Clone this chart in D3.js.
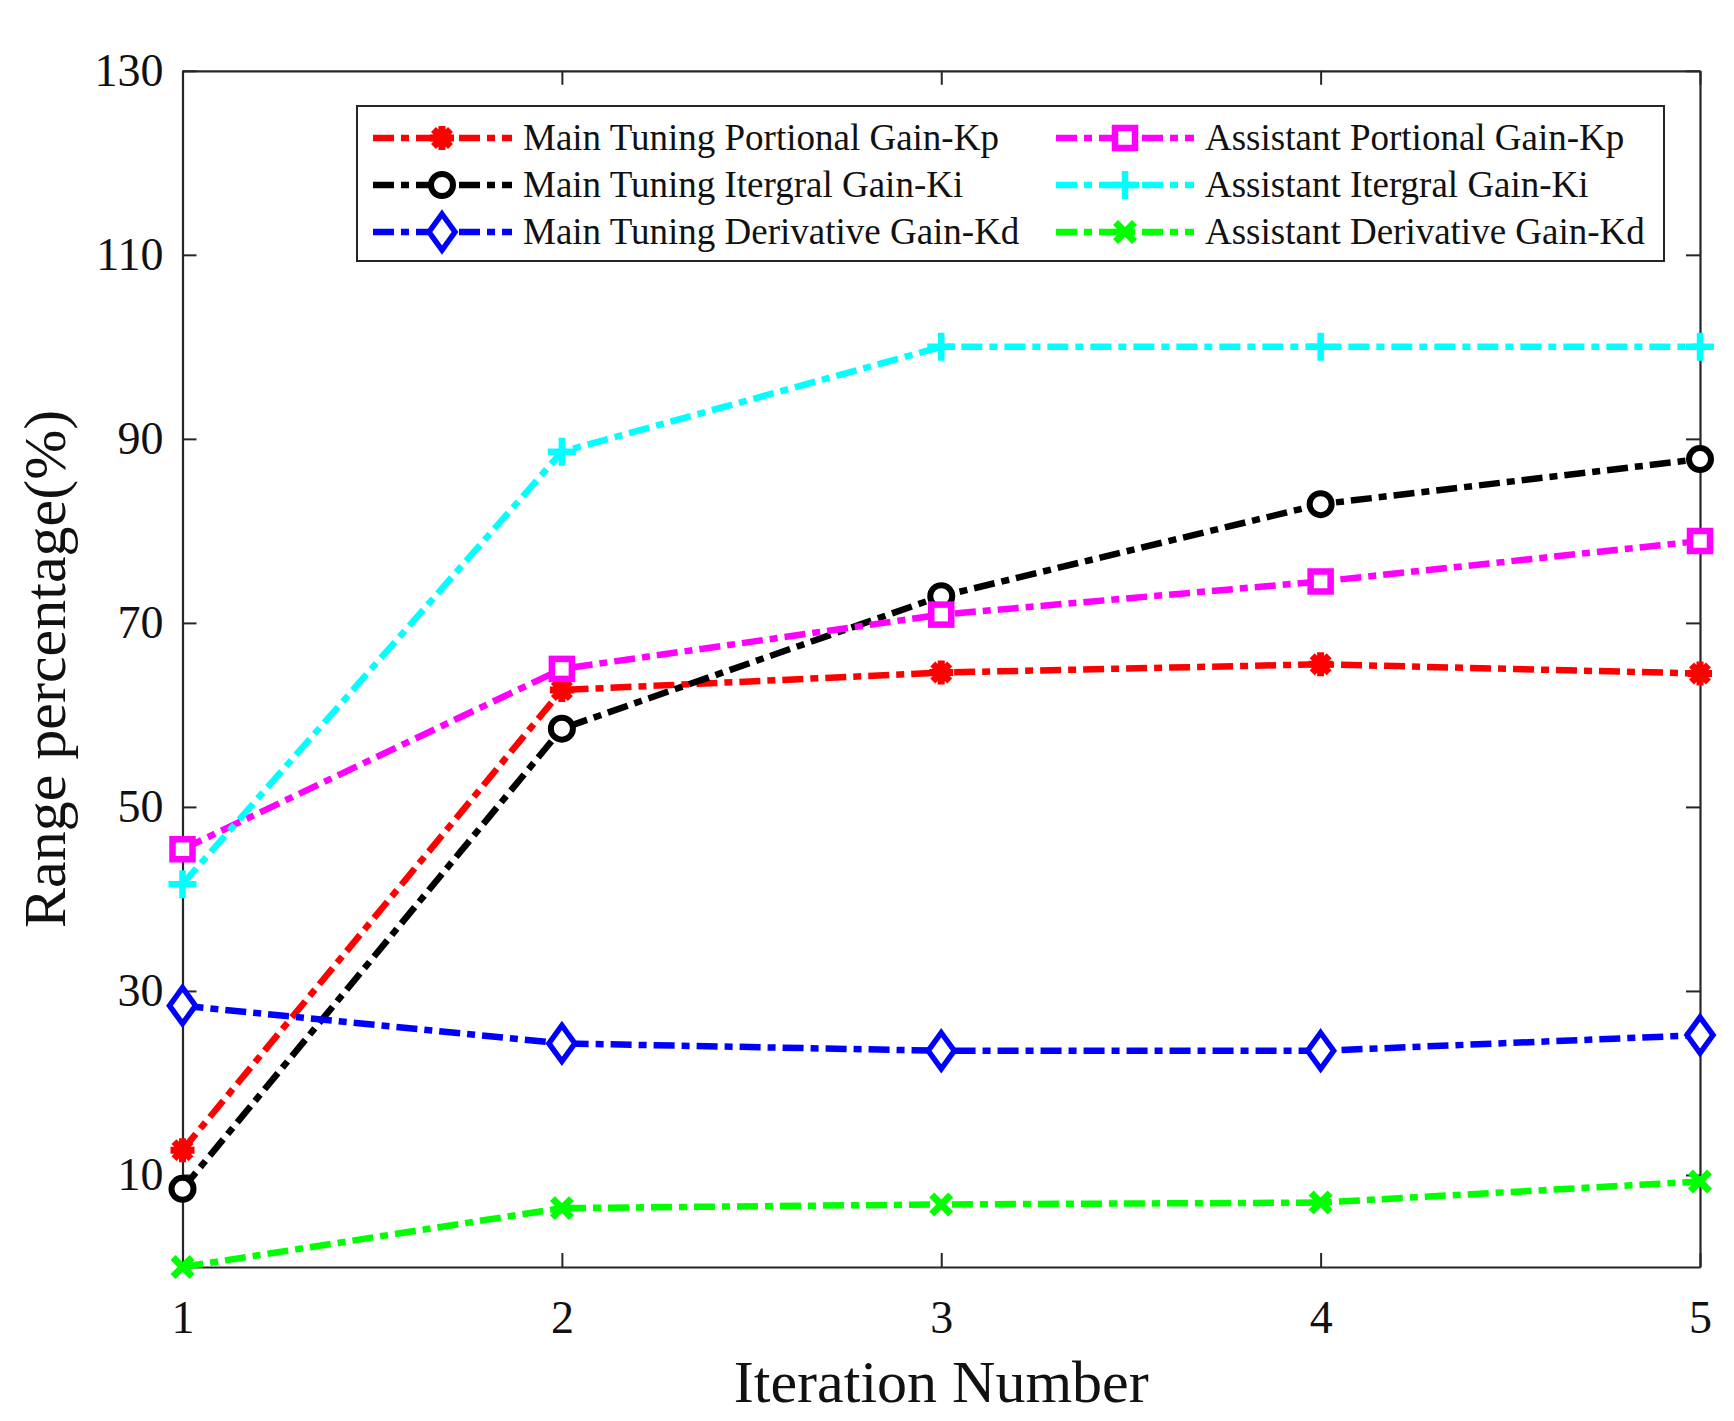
<!DOCTYPE html>
<html>
<head>
<meta charset="utf-8">
<script src="https://cdn.jsdelivr.net/npm/d3@7/dist/d3.min.js"></script>
<style>
  html, body { margin: 0; padding: 0; background: #fff; }
  svg { display: block; }
  text { font-family: "Liberation Serif", "Times New Roman", serif; fill: #111; }
</style>
</head>
<body>
<svg id="chart" width="1734" height="1421"></svg>
<script>
// ---- data ----
const iterations = [1, 2, 3, 4, 5];
const mainKp = [12.7, 62.7, 64.6, 65.5, 64.5];
const mainKi = [8.5, 58.5, 72.9, 82.9, 87.8];
const mainKd = [28.4, 24.3, 23.5, 23.5, 25.2];
const asstKp = [45.4, 65.0, 70.9, 74.5, 78.9];
const asstKi = [41.6, 88.6, 100.0, 100.0, 100.0];
const asstKd = [0.0, 6.4, 6.8, 7.0, 9.3];
const yTicks = [10, 30, 50, 70, 90, 110, 130];
const xTicks = [1, 2, 3, 4, 5];
const seriesNames = [
  "Main Tuning Portional Gain-Kp",
  "Main Tuning Itergral Gain-Ki",
  "Main Tuning Derivative Gain-Kd",
  "Assistant Portional Gain-Kp",
  "Assistant Itergral Gain-Ki",
  "Assistant Derivative Gain-Kd"
];
const seriesValues = [mainKp, mainKi, mainKd, asstKp, asstKi, asstKd];
const seriesColors = ["#ff0000", "#000000", "#0000ff", "#ff00ff", "#00ffff", "#00ff00"];
const seriesMarkers = ["asterisk", "circle", "diamond", "square", "plus", "cross"];

// ---- layout ----
const L = 182.5, R = 1700, T = 70.8, B = 1267;
const svg = d3.select("#chart");
const x = d3.scaleLinear().domain([1, 5]).range([L, R]);
const y = d3.scaleLinear().domain([0, 130]).range([B, T]);
const axisColor = "#262626";

function styleAxis(g) {
  g.selectAll("path.domain").attr("stroke", axisColor).attr("stroke-width", 2.2);
  g.selectAll(".tick line").attr("stroke", axisColor).attr("stroke-width", 2);
  g.selectAll(".tick text").attr("fill", "#111")
    .style("font-family", '"Liberation Serif", "Times New Roman", serif')
    .style("font-size", "46px");
}

svg.append("g").attr("transform", `translate(0,${B})`)
  .call(d3.axisBottom(x).tickValues(xTicks).tickFormat(d3.format("d")).tickSize(-14).tickSizeOuter(0).tickPadding(33))
  .call(styleAxis).attr("font-size", null).attr("font-family", null);
svg.append("g").attr("transform", `translate(0,${T})`)
  .call(d3.axisTop(x).tickValues(xTicks).tickFormat("").tickSize(-14).tickSizeOuter(0))
  .call(styleAxis);
svg.append("g").attr("transform", `translate(${L},0)`)
  .call(d3.axisLeft(y).tickValues(yTicks).tickFormat(d3.format("d")).tickSize(-14).tickSizeOuter(0).tickPadding(19))
  .call(styleAxis).attr("font-size", null).attr("font-family", null);
svg.append("g").attr("transform", `translate(${R},0)`)
  .call(d3.axisRight(y).tickValues(yTicks).tickFormat("").tickSize(-14).tickSizeOuter(0))
  .call(styleAxis);

// axis titles
svg.append("text").attr("x", (L + R) / 2).attr("y", 1402)
  .attr("text-anchor", "middle").style("font-size", "60px").text("Iteration Number");
svg.append("text").attr("transform", `translate(65,${(T + B) / 2}) rotate(-90)`)
  .attr("text-anchor", "middle").style("font-size", "60px").text("Range percentage(%)");

// ---- markers ----
function drawMarker(g, type, cx, cy, color) {
  const m = g.append("g").attr("transform", `translate(${cx},${cy})`);
  if (type === "asterisk") {
    const a = 12, b = 8.5;
    m.append("path").attr("d", `M${-a},0L${a},0M0,${-a}L0,${a}M${-b},${-b}L${b},${b}M${-b},${b}L${b},${-b}`)
      .attr("stroke", color).attr("stroke-width", 7).attr("fill", "none");
  } else if (type === "circle") {
    m.append("circle").attr("r", 11).attr("fill", "#fff").attr("stroke", color).attr("stroke-width", 6);
  } else if (type === "diamond") {
    m.append("path").attr("d", "M0,-18L13,0L0,18L-13,0Z").attr("fill", "#fff").attr("stroke", color).attr("stroke-width", 5.5);
  } else if (type === "square") {
    m.append("rect").attr("x", -10).attr("y", -10).attr("width", 20).attr("height", 20)
      .attr("fill", "#fff").attr("stroke", color).attr("stroke-width", 6.5);
  } else if (type === "plus") {
    const a = 14;
    m.append("path").attr("d", `M${-a},0L${a},0M0,${-a}L0,${a}`)
      .attr("stroke", color).attr("stroke-width", 6.5).attr("fill", "none");
  } else if (type === "cross") {
    const a = 9.5;
    m.append("path").attr("d", `M${-a},${-a}L${a},${a}M${-a},${a}L${a},${-a}`)
      .attr("stroke", color).attr("stroke-width", 7).attr("fill", "none");
  }
}

const dash = "21,7,8,7";
const line = d3.line().x((d, i) => x(iterations[i])).y(d => y(d));

seriesValues.forEach((vals, si) => {
  const g = svg.append("g");
  g.append("path").datum(vals).attr("d", line)
    .attr("fill", "none").attr("stroke", seriesColors[si]).attr("stroke-width", 6.5)
    .attr("stroke-dasharray", dash);
  vals.forEach((v, i) => drawMarker(g, seriesMarkers[si], x(iterations[i]), y(v), seriesColors[si]));
});

// ---- legend ----
const leg = svg.append("g");
leg.append("rect").attr("x", 357).attr("y", 106).attr("width", 1307).attr("height", 155)
  .attr("fill", "#fff").attr("stroke", axisColor).attr("stroke-width", 2);
const rowY = [138, 185, 232];
const cols = [
  { x0: 373, x1: 512, mx: 442, tx: 523 },
  { x0: 1056, x1: 1194, mx: 1125, tx: 1205 }
];
seriesNames.forEach((name, si) => {
  const c = cols[Math.floor(si / 3)], ry = rowY[si % 3];
  leg.append("line").attr("x1", c.x0).attr("x2", c.x1).attr("y1", ry).attr("y2", ry)
    .attr("stroke", seriesColors[si]).attr("stroke-width", 6.5).attr("stroke-dasharray", dash);
  drawMarker(leg, seriesMarkers[si], c.mx, ry, seriesColors[si]);
  leg.append("text").attr("x", c.tx).attr("y", ry).attr("dy", "0.33em")
    .style("font-size", "37px").text(name);
});
</script>
</body>
</html>
